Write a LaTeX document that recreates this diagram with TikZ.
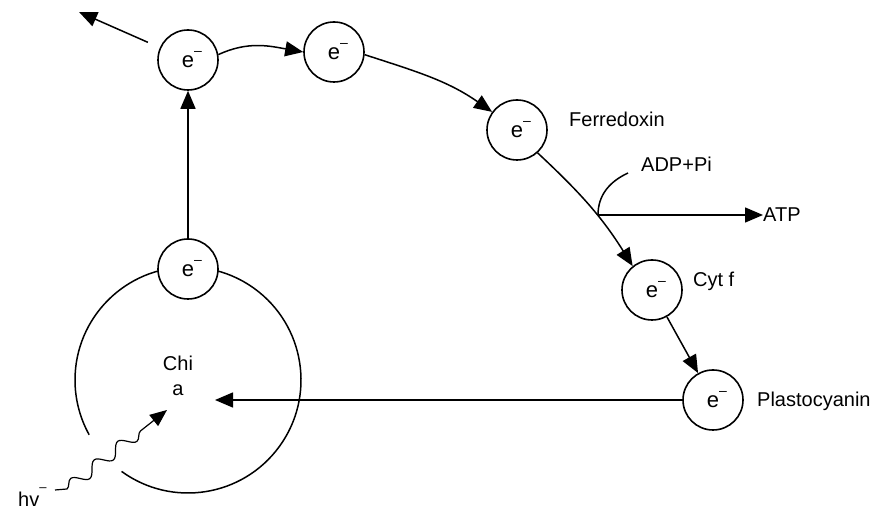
\documentclass[tikz,border=0pt]{standalone}
\usepackage{fontspec}
\setmainfont{Liberation Sans}
\usetikzlibrary{arrows.meta,decorations.pathmorphing}
\newcommand{\elec}{e\rlap{\raisebox{0.55em}{\fontsize{14}{14}\selectfont –}}}
\begin{document}
\begin{tikzpicture}[x=1pt,y=1pt,
  ecirc/.style={circle,draw,line width=1.6pt,fill=white,minimum size=60pt,inner sep=0pt,font=\fontsize{22}{26}\selectfont},
  lbl/.style={inner sep=0pt,font=\fontsize{20}{25}\selectfont},
  arr/.style={line width=1.5pt,-{Triangle[length=18pt,width=15pt]}},
  ln/.style={line width=1.5pt}]
\useasboundingbox (0,0) rectangle (878,510);
% big circle (Chl a)
\coordinate (bc) at (188,130);
\draw[ln] ([shift={(90:113pt)}]bc) arc[start angle=90,end angle=209,radius=113pt];
\draw[ln] ([shift={(234:113pt)}]bc) arc[start angle=234,end angle=450,radius=113pt];
% electron carriers
\node[ecirc] (e1) at (188,450) {\elec};
\node[ecirc] (e2) at (334,458) {\elec};
\node[ecirc] (e3) at (517,380) {\elec};
\node[ecirc] (e4) at (652,220) {\elec};
\node[ecirc] (e5) at (713,110) {\elec};
\node[ecirc] (e6) at (188,241) {\elec};
% labels
\node[lbl,anchor=base west] (ferr) at (569,383) {Ferredoxin};
\node[lbl,anchor=base west] (cyt) at (693,223) {Cyt f};
\node[lbl,anchor=base west] (plast) at (757,103) {Plastocyanin};
\node[lbl,anchor=base west] (adp) at (641,338) {ADP+Pi};
\node[lbl,anchor=west] (atp) at (763,295) {ATP};
\node[lbl,align=center] (chia) at (178,134) {Chi\\a};
\node[lbl,anchor=base west] (hv) at (18,3) {hv\rlap{\raisebox{0.75em}{\fontsize{13}{13}\selectfont –}}};
% coordinates
\coordinate (ul) at (79,498);
\coordinate (chitip) at (215,110);
\coordinate (J) at (598,295);
\coordinate (adpend) at (628,337);
\coordinate (ws) at (55,20);
\coordinate (wt) at (167,100);
% connectors
\draw[arr] (e6) -- (e1);
\draw[arr,shorten <=13pt] (e1) -- (ul);
\draw[arr] (e1.10) to[out=25,in=170] (e2.west);
\draw[arr] (e2.-5) to[out=-18,in=145] (e3.144);
\draw[arr] (e3.-48) to[out=-43,in=122] (e4.129);
\draw[arr] (e4) -- (e5);
\draw[arr] (e5.west) -- (chitip);
\draw[ln] (J) to[out=90,in=205] (adpend);
\draw[arr] (J) -- (atp.west);
\draw[line width=1.2pt,-{Triangle[length=17pt,width=14pt]}] (ws) -- ++(12,1)
  decorate[decoration={snake,amplitude=6pt,segment length=30pt,post length=24pt}] {-- (wt)};
\end{tikzpicture}
\end{document}
